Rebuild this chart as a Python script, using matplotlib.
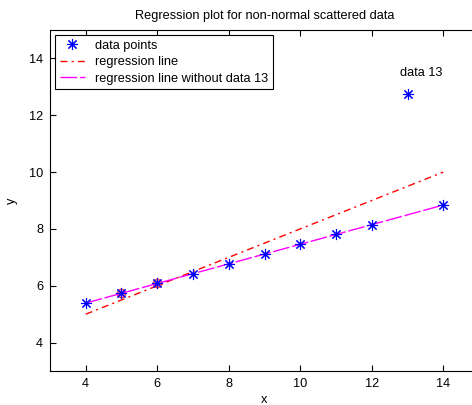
import matplotlib
matplotlib.use("Agg")
import matplotlib.pyplot as plt
import numpy as np

x = [4, 5, 6, 7, 8, 9, 10, 11, 12, 13, 14]
y = [5.39, 5.73, 6.08, 6.42, 6.77, 7.11, 7.46, 7.81, 8.15, 12.74, 8.84]
hl_x = [5, 6]
hl_y = [5.73, 6.08]
reg_x = [4, 14]
reg_y = [5.0, 10.0]
reg2_y = [5.39, 8.84]
xticks = [4, 6, 8, 10, 12, 14]
yticks = [4, 6, 8, 10, 12, 14]

FS = 9.2
plt.rcParams['font.family'] = ['Liberation Sans', 'DejaVu Sans']
fig = plt.figure(figsize=(4.72, 4.05), dpi=100)
ax = fig.add_axes([50/472, 34/405, 429/472, 341/405])

ax.plot(hl_x, hl_y, 'o', color='red', markersize=6, markerfacecolor='#ff9090', alpha=0.7, zorder=2)
ast = (8, 2, 0)
l1, = ax.plot(x, y, linestyle='none', marker=ast, color='blue', markersize=8, markeredgewidth=0.8, zorder=4, label='data points')
l2, = ax.plot(reg_x, reg_y, color='red', linewidth=1.0, dashes=(5, 3, 1.5, 3), zorder=3, label='regression line')
l3, = ax.plot(reg_x, reg2_y, color='magenta', linewidth=1.0, dashes=(12, 2), zorder=3, label='regression line without data 13')
ax.text(12.8, 13.5, 'data 13', fontsize=FS, ha='left', va='center')

ax.set_xlim(3, 15)
ax.set_ylim(3, 15)
ax.set_xticks(xticks)
ax.set_yticks(yticks)
ax.tick_params(direction='in', top=True, right=True, labelsize=FS, length=4, pad=5)
ax.set_title('Regression plot for non-normal scattered data', fontsize=FS, pad=8)
ax.set_xlabel('x', fontsize=FS, labelpad=3)
ax.set_ylabel('y', fontsize=FS, labelpad=8)

leg = ax.legend(handles=[l1, l2, l3], loc='upper left', fontsize=FS, frameon=True, fancybox=False,
                edgecolor='black', framealpha=1, borderaxespad=0.4, handlelength=2.0, labelspacing=0.35,
                borderpad=0.35, handletextpad=0.8)
leg.get_frame().set_linewidth(0.8)

fig.savefig('out.png', dpi=100)
